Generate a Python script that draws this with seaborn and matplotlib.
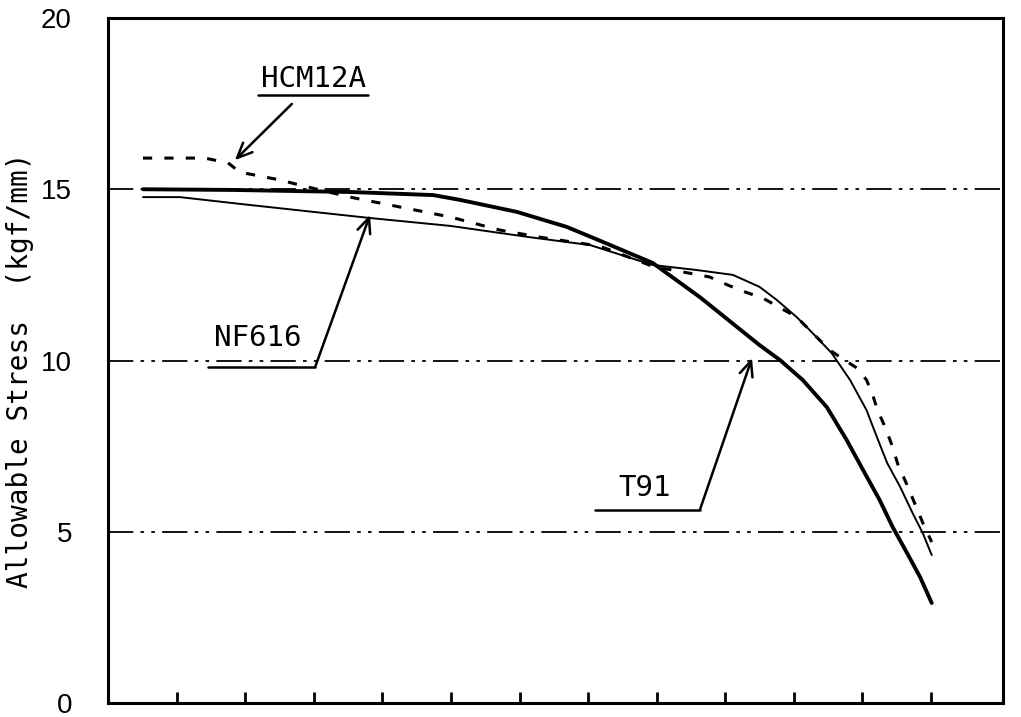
import matplotlib
matplotlib.use("Agg")
import matplotlib.pyplot as plt
import seaborn as sns

# x is in tick steps (12 unlabeled ticks), y in kgf/mm
t91_x = [0.51, 1.82, 3.53, 4.74, 5.13, 5.96, 6.69, 7.17, 7.94, 8.63, 9.5, 9.8, 10.13, 10.48, 10.77, 11.01, 11.25, 11.44, 11.65, 11.84, 12.01]
t91_y = [15.0, 14.98, 14.92, 14.83, 14.69, 14.34, 13.9, 13.5, 12.85, 11.85, 10.45, 10.01, 9.43, 8.64, 7.68, 6.8, 5.93, 5.14, 4.38, 3.68, 2.92]

nf616_x = [0.51, 1.05, 2.07, 3.82, 4.99, 6.15, 7.03, 7.94, 8.59, 9.11, 9.5, 9.75, 10.04, 10.23, 10.55, 10.82, 11.06, 11.21, 11.36, 11.55, 11.73, 11.88, 12.01]
nf616_y = [14.77, 14.77, 14.54, 14.16, 13.93, 13.6, 13.37, 12.79, 12.64, 12.5, 12.15, 11.77, 11.27, 10.89, 10.22, 9.43, 8.55, 7.77, 7.01, 6.31, 5.55, 4.96, 4.32]

hcm_x = [0.51, 1.41, 1.75, 1.92, 2.51, 2.8, 3.53, 4.26, 4.99, 5.71, 6.3, 7.17, 7.94, 8.77, 9.04, 9.29, 9.55, 10.04, 10.52, 10.74, 10.92, 11.06, 11.15, 11.22, 11.33, 11.43, 11.52, 11.65, 11.76, 11.88, 12.01]
hcm_y = [15.91, 15.91, 15.77, 15.5, 15.27, 15.12, 14.77, 14.48, 14.19, 13.81, 13.6, 13.34, 12.75, 12.44, 12.2, 12.0, 11.82, 11.27, 10.31, 10.01, 9.78, 9.43, 8.99, 8.55, 8.06, 7.53, 6.95, 6.37, 5.84, 5.26, 4.70]

ref_levels = [5, 10, 15]
y_ticks = [0, 5, 10, 15, 20]
x_ticks = list(range(1, 13))

sns.set_theme(style="white")
plt.rcParams["font.family"] = ["Liberation Sans", "DejaVu Sans"]

fig = plt.figure(figsize=(10.21, 7.17), dpi=100)
ax = fig.add_axes([0.1058, 0.0195, 0.8766, 0.9554])

for lv in ref_levels:
    ax.axhline(lv, color="black", lw=1.3, ls=(0, (14, 4, 2, 4, 2, 4)), zorder=1)

sns.lineplot(x=t91_x, y=t91_y, color="black", lw=2.8, estimator=None, sort=False, ax=ax)
sns.lineplot(x=nf616_x, y=nf616_y, color="black", lw=1.4, estimator=None, sort=False, ax=ax)
sns.lineplot(x=hcm_x, y=hcm_y, color="black", lw=2.2, ls=(0, (3, 4)), estimator=None, sort=False, ax=ax)

ax.set_xlim(0, 13.05)
ax.set_ylim(0, 20)
ax.set_xticks(x_ticks)
ax.set_xticklabels([])
ax.set_yticks(y_ticks)
ax.tick_params(axis="x", direction="in", length=8, width=2, bottom=True, color="black")
ax.tick_params(axis="y", length=0, pad=26, labelsize=20, labelcolor="black")
for sp in ax.spines.values():
    sp.set_color("black")
    sp.set_linewidth(2.2)

ax.set_xlabel("")
ax.set_ylabel("Allowable Stress  (kgf/mm)", family="DejaVu Sans Mono", fontsize=20,
              color="black", va="center")
ax.yaxis.set_label_coords(-0.098, 0.486)

mono = dict(family="DejaVu Sans Mono", fontsize=21, color="black", ha="center", va="center")
arrow_open = dict(arrowstyle="->,head_length=0.9,head_width=0.4", color="black", lw=1.8,
                  shrinkA=0, shrinkB=0)

# HCM12A
ax.text(2.99, 18.22, "HCM12A", **mono)
ax.plot([2.19, 3.79], [17.75, 17.75], color="black", lw=1.8)
ax.annotate("", xy=(1.85, 15.85), xytext=(2.68, 17.49), arrowprops=arrow_open)

# NF616
ax.text(2.19, 10.66, "NF616", **mono)
ax.plot([1.46, 3.02], [9.81, 9.81], color="black", lw=1.8)
ax.annotate("", xy=(3.82, 14.25), xytext=(3.02, 9.81), arrowprops=arrow_open)

# T91
ax.text(7.83, 6.28, "T91", **mono)
ax.plot([7.1, 8.63], [5.64, 5.64], color="black", lw=1.8)
ax.annotate("", xy=(9.39, 10.07), xytext=(8.63, 5.64), arrowprops=arrow_open)

fig.savefig("out.png", dpi=100)
